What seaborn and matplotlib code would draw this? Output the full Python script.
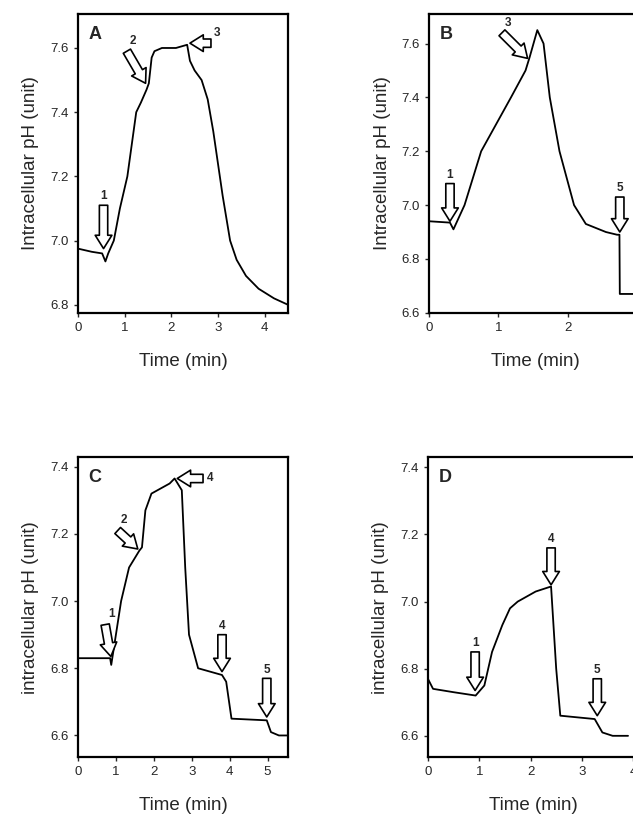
import numpy as np
import pandas as pd
import matplotlib
matplotlib.use("Agg")
import matplotlib.pyplot as plt
import seaborn as sns

sns.set_theme(style="ticks")
plt.rcParams['font.family'] = ['Liberation Sans', 'DejaVu Sans']

# traces: time (min), pH
a_t = [0, 0.3, 0.52, 0.59, 0.65, 0.77, 0.9, 1.06, 1.25, 1.35, 1.47, 1.52, 1.58, 1.64, 1.8, 2.1, 2.34,
       2.4, 2.5, 2.65, 2.78, 2.9, 3.0, 3.1, 3.26, 3.4, 3.6, 3.87, 4.2, 4.5]
a_ph = [6.975, 6.965, 6.96, 6.935, 6.96, 7.0, 7.1, 7.2, 7.4, 7.43, 7.47, 7.49, 7.57, 7.59, 7.6, 7.6, 7.61,
        7.56, 7.53, 7.5, 7.44, 7.34, 7.24, 7.14, 7.0, 6.94, 6.89, 6.85, 6.82, 6.8]
b_t = [0, 0.3, 0.35, 0.51, 0.75, 1.18, 1.39, 1.45, 1.56, 1.65, 1.74, 1.88, 2.09, 2.26, 2.55, 2.71, 2.745,
       2.75, 3.1]
b_ph = [6.94, 6.935, 6.91, 7.0, 7.2, 7.4, 7.5, 7.55, 7.65, 7.6, 7.4, 7.2, 7.0, 6.93, 6.9, 6.89, 6.89,
        6.67, 6.67]
c_t = [0, 0.85, 0.88, 1.14, 1.35, 1.62, 1.69, 1.78, 1.94, 2.42, 2.55, 2.74, 2.83, 2.93, 3.17, 3.8, 3.91,
       4.05, 4.98, 5.09, 5.3, 5.54]
c_ph = [6.83, 6.83, 6.81, 7.0, 7.1, 7.15, 7.16, 7.27, 7.32, 7.35, 7.365, 7.33, 7.1, 6.9, 6.8, 6.78, 6.76,
        6.65, 6.645, 6.61, 6.6, 6.6]
d_t = [0, 0.1, 0.5, 0.93, 1.1, 1.25, 1.45, 1.6, 1.75, 2.1, 2.4, 2.5, 2.58, 3.25, 3.4, 3.6, 3.9]
d_ph = [6.77, 6.74, 6.73, 6.72, 6.75, 6.85, 6.93, 6.98, 7.0, 7.03, 7.045, 6.8, 6.66, 6.65, 6.61, 6.6, 6.6]

# arrows: label, tail (x, y), tip (x, y)
a_arrows = [("1", (0.55, 7.11), (0.55, 6.975)), ("2", (1.05, 7.59), (1.45, 7.49)),
            ("3", (2.85, 7.615), (2.4, 7.615))]
b_arrows = [("1", (0.3, 7.08), (0.3, 6.94)), ("3", (1.05, 7.64), (1.42, 7.545)),
            ("5", (2.75, 7.03), (2.75, 6.9))]
c_arrows = [("1", (0.72, 6.93), (0.87, 6.835)), ("2", (1.05, 7.21), (1.58, 7.155)),
            ("4", (3.3, 7.365), (2.62, 7.365)), ("4", (3.8, 6.9), (3.8, 6.79)),
            ("5", (4.98, 6.77), (4.98, 6.655))]
d_arrows = [("1", (0.92, 6.85), (0.92, 6.735)), ("4", (2.4, 7.16), (2.4, 7.05)),
            ("5", (3.3, 6.77), (3.3, 6.66))]

panels = [
    ("A", a_t, a_ph, a_arrows, [0.123, 0.619, 0.332, 0.364], (0, 4.5), (6.775, 7.706),
     [0, 1, 2, 3, 4], [6.8, 7.0, 7.2, 7.4, 7.6], "Intracellular pH (unit)"),
    ("B", b_t, b_ph, b_arrows, [0.678, 0.619, 0.334, 0.364], (0, 3.05), (6.6, 7.71),
     [0, 1, 2, 3], [6.6, 6.8, 7.0, 7.2, 7.4, 7.6], "Intracellular pH (unit)"),
    ("C", c_t, c_ph, c_arrows, [0.123, 0.078, 0.332, 0.365], (0, 5.54), (6.536, 7.428),
     [0, 1, 2, 3, 4, 5], [6.6, 6.8, 7.0, 7.2, 7.4], "intracellular pH (unit)"),
    ("D", d_t, d_ph, d_arrows, [0.676, 0.078, 0.334, 0.365], (0, 4.12), (6.537, 7.43),
     [0, 1, 2, 3, 4], [6.6, 6.8, 7.0, 7.2, 7.4], "intracellular pH (unit)"),
]

fig = plt.figure(figsize=(6.33, 8.21), dpi=100)
for letter, t, ph, arrows, rect, xl, yl, xt, yt, ylab in panels:
    ax = fig.add_axes(rect)
    df = pd.DataFrame({"t": t, "ph": ph})
    sns.lineplot(data=df, x="t", y="ph", ax=ax, color="black", lw=1.3)
    ax.set_xlim(*xl)
    ax.set_ylim(*yl)
    ax.set_xticks(xt)
    ax.set_yticks(yt)
    ax.set_yticklabels([f"{v:.1f}" for v in yt])
    ax.tick_params(labelsize=9.5, length=3, width=1, direction="out")
    for s in ax.spines.values():
        s.set_linewidth(1.6)
        s.set_color("black")
    ax.set_xlabel("Time (min)", fontsize=13.5, labelpad=14)
    ax.set_ylabel(ylab, fontsize=13.5, labelpad=8)
    ax.text(0.05, 0.96, letter, transform=ax.transAxes, fontsize=13, fontweight="bold", va="top")
    for lab, tail, tip in arrows:
        ax.annotate("", xy=tip, xytext=tail,
                    arrowprops=dict(arrowstyle="simple,head_width=1.0,head_length=0.8,tail_width=0.5",
                                    fc="white", ec="black", lw=1.2, shrinkA=0, shrinkB=0))
        vert = abs(tip[0] - tail[0]) < 1e-6
        if vert:
            ax.annotate(lab, xy=tail, xytext=(0, 2), textcoords="offset points",
                        ha="center", va="bottom", fontsize=8.5, fontweight="bold")
        elif tip[0] < tail[0] and abs(tip[1] - tail[1]) < 1e-6 and letter == "C":
            ax.annotate(lab, xy=tail, xytext=(3, 0), textcoords="offset points",
                        ha="left", va="center", fontsize=8.5, fontweight="bold")
        else:
            ax.annotate(lab, xy=tail, xytext=(2, 3), textcoords="offset points",
                        ha="left", va="bottom", fontsize=8.5, fontweight="bold")

fig.savefig("out.png", dpi=100)
